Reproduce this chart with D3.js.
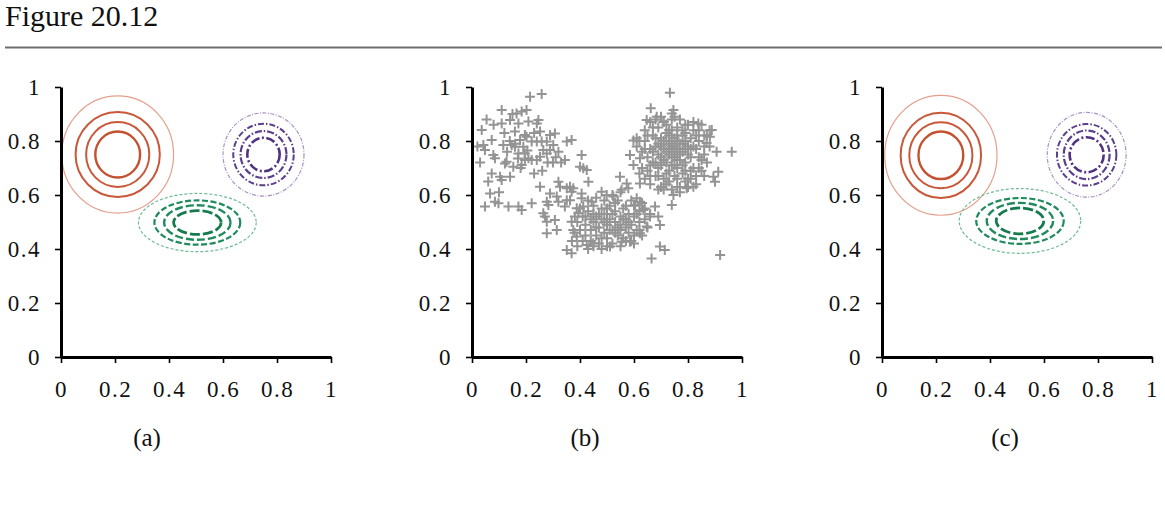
<!DOCTYPE html>
<html>
<head>
<meta charset="utf-8">
<script src="https://cdn.jsdelivr.net/npm/d3@7"></script>
<style>
body { margin: 0; background: #fff; }
svg { display: block; }
text { font-family: "Liberation Serif", "Times New Roman", serif; fill: #111; }
</style>
</head>
<body>
<svg></svg>
<script>
const W = 1165, H = 508;
const tickValues = [0, 0.2, 0.4, 0.6, 0.8, 1];
const tickLabels = ['0', '0.2', '0.4', '0.6', '0.8', '1'];
const panelLabels = ['(a)', '(b)', '(c)'];

// contour rings: [cx, cy, rx, ry, group, level]  (level 0 = outer ring)
const contoursA = [
	[0.21, 0.75, 0.207, 0.217, 'red', 0],
	[0.21, 0.75, 0.156, 0.157, 'red', 1],
	[0.21, 0.75, 0.117, 0.120, 'red', 2],
	[0.21, 0.75, 0.083, 0.085, 'red', 3],
	[0.75, 0.75, 0.150, 0.154, 'purple', 0],
	[0.75, 0.75, 0.112, 0.114, 'purple', 1],
	[0.75, 0.75, 0.085, 0.087, 'purple', 2],
	[0.75, 0.75, 0.060, 0.062, 'purple', 3],
	[0.505, 0.498, 0.218, 0.108, 'green', 0],
	[0.505, 0.498, 0.159, 0.082, 'green', 1],
	[0.505, 0.498, 0.123, 0.064, 'green', 2],
	[0.505, 0.498, 0.088, 0.044, 'green', 3]
];
const contoursC = [
	[0.218, 0.747, 0.208, 0.222, 'red', 0],
	[0.218, 0.747, 0.149, 0.158, 'red', 1],
	[0.218, 0.747, 0.117, 0.122, 'red', 2],
	[0.218, 0.747, 0.083, 0.088, 'red', 3],
	[0.758, 0.749, 0.146, 0.157, 'purple', 0],
	[0.758, 0.749, 0.110, 0.114, 'purple', 1],
	[0.758, 0.749, 0.085, 0.090, 'purple', 2],
	[0.758, 0.749, 0.063, 0.065, 'purple', 3],
	[0.511, 0.504, 0.225, 0.120, 'green', 0],
	[0.511, 0.504, 0.162, 0.085, 'green', 1],
	[0.511, 0.504, 0.123, 0.067, 'green', 2],
	[0.511, 0.504, 0.088, 0.048, 'green', 3]
];

// sampled points for panel (b)
const samples = [
	// left group
	[0.036,0.841],[0.054,0.880],[0.110,0.915],[0.110,0.865],[0.141,0.878],[0.165,0.902],[0.184,0.909],[0.202,0.915],
	[0.215,0.964],[0.258,0.974],[0.246,0.878],[0.240,0.865],[0.209,0.872],[0.172,0.865],[0.159,0.835],[0.178,0.804],
	[0.190,0.779],[0.172,0.754],[0.159,0.779],[0.147,0.785],[0.116,0.785],[0.073,0.804],[0.042,0.785],[0.048,0.767],
	[0.079,0.748],[0.085,0.736],[0.122,0.717],[0.128,0.723],[0.153,0.705],[0.184,0.711],[0.196,0.730],[0.209,0.736],
	[0.221,0.730],[0.240,0.730],[0.252,0.742],[0.264,0.767],[0.277,0.754],[0.289,0.767],[0.301,0.785],[0.307,0.828],
	[0.289,0.822],[0.258,0.798],[0.240,0.798],[0.221,0.798],[0.202,0.816],[0.196,0.822],[0.252,0.835],[0.277,0.798],
	[0.160,0.790],[0.195,0.755],[0.170,0.735],[0.140,0.800],[0.130,0.760],[0.205,0.765],[0.180,0.700],[0.020,0.780],
	[0.073,0.680],[0.104,0.668],[0.110,0.656],[0.067,0.606],[0.085,0.575],[0.098,0.569],[0.135,0.557],[0.172,0.557],
	[0.184,0.544],[0.221,0.569],[0.048,0.557],[0.141,0.668],[0.252,0.631],[0.277,0.575],[0.283,0.563],[0.289,0.606],
	[0.320,0.649],[0.326,0.631],[0.314,0.594],[0.351,0.625],[0.363,0.631],[0.369,0.612],[0.375,0.625],[0.351,0.581],
	[0.363,0.581],[0.320,0.575],[0.344,0.557],[0.264,0.532],[0.270,0.520],[0.277,0.501],[0.277,0.458],[0.307,0.507],
	[0.314,0.470],[0.351,0.798],[0.369,0.804],[0.344,0.730],[0.406,0.748],[0.400,0.705],[0.412,0.699],[0.425,0.693],
	[0.431,0.649],[0.406,0.606],[0.406,0.588],[0.388,0.551],[0.381,0.520],[0.351,0.396],[0.369,0.384],[0.320,0.760],
	[0.310,0.740],[0.280,0.720],[0.300,0.720],[0.330,0.720],[0.150,0.900],[0.230,0.830],[0.030,0.720],[0.060,0.650],
	[0.100,0.610],[0.230,0.680],[0.260,0.690],[0.120,0.830],[0.080,0.860],
	// middle group
	[0.548,0.668],[0.573,0.643],[0.579,0.625],[0.622,0.643],[0.554,0.619],[0.610,0.588],[0.622,0.575],[0.678,0.557],
	[0.690,0.520],[0.696,0.489],[0.696,0.409],[0.714,0.396],[0.665,0.365],[0.480,0.612],[0.499,0.600],[0.523,0.594],
	[0.443,0.575],[0.412,0.557],[0.394,0.532],[0.369,0.501],[0.375,0.470],[0.388,0.446],[0.425,0.415],[0.449,0.421],
	[0.511,0.409],[0.554,0.427],[0.585,0.427],[0.622,0.458],[0.647,0.483],[0.659,0.520],[0.635,0.544],[0.604,0.563],
	[0.40,0.47],[0.41,0.52],[0.42,0.45],[0.42,0.49],[0.43,0.54],[0.44,0.47],[0.44,0.43],[0.45,0.50],
	[0.45,0.56],[0.46,0.45],[0.46,0.52],[0.47,0.48],[0.47,0.42],[0.48,0.55],[0.48,0.51],[0.49,0.46],
	[0.49,0.58],[0.50,0.49],[0.50,0.53],[0.50,0.44],[0.51,0.51],[0.51,0.56],[0.52,0.47],[0.52,0.42],
	[0.53,0.50],[0.53,0.54],[0.54,0.45],[0.54,0.58],[0.55,0.49],[0.55,0.52],[0.56,0.44],[0.56,0.55],
	[0.57,0.48],[0.57,0.51],[0.58,0.46],[0.58,0.53],[0.59,0.49],[0.59,0.43],[0.60,0.52],[0.60,0.56],
	[0.61,0.47],[0.62,0.50],[0.62,0.54],[0.63,0.45],[0.64,0.51],[0.65,0.48],[0.39,0.50],[0.38,0.46],
	[0.40,0.55],[0.43,0.58],[0.46,0.59],[0.52,0.60],[0.55,0.61],[0.47,0.53],[0.49,0.50],[0.51,0.47],
	[0.53,0.46],[0.55,0.47],[0.48,0.44],[0.44,0.51],[0.42,0.52],[0.57,0.56],[0.59,0.58],[0.61,0.53],
	[0.58,0.50],[0.50,0.55],[0.46,0.48],[0.45,0.53],[0.53,0.57],[0.56,0.51],[0.54,0.48],[0.52,0.53],
	[0.49,0.53],[0.60,0.45],[0.62,0.47],[0.57,0.43],[0.50,0.41],[0.45,0.41],[0.41,0.43],[0.63,0.57],
	[0.37,0.43],[0.39,0.41],[0.43,0.40],[0.48,0.40],[0.55,0.41],[0.60,0.42],[0.64,0.55],[0.66,0.53],
	// right group
	[0.733,0.979],[0.662,0.921],[0.746,0.915],[0.740,0.902],[0.647,0.878],[0.684,0.890],[0.709,0.872],[0.610,0.810],
	[0.598,0.802],[0.585,0.748],[0.598,0.711],[0.622,0.736],[0.838,0.865],[0.888,0.841],[0.881,0.816],[0.869,0.793],
	[0.906,0.760],[0.962,0.760],[0.894,0.668],[0.900,0.649],[0.912,0.686],[0.740,0.563],[0.746,0.600],[0.795,0.625],
	[0.820,0.631],[0.919,0.378],
	[0.64,0.80],[0.65,0.74],[0.65,0.69],[0.66,0.77],[0.66,0.64],[0.67,0.82],[0.67,0.72],[0.68,0.78],
	[0.68,0.67],[0.69,0.85],[0.69,0.75],[0.69,0.70],[0.70,0.81],[0.70,0.63],[0.71,0.77],[0.71,0.73],
	[0.71,0.87],[0.72,0.68],[0.72,0.80],[0.73,0.75],[0.73,0.84],[0.73,0.65],[0.74,0.78],[0.74,0.71],
	[0.74,0.88],[0.75,0.74],[0.75,0.81],[0.75,0.67],[0.76,0.77],[0.76,0.85],[0.76,0.70],[0.77,0.79],
	[0.77,0.73],[0.77,0.63],[0.78,0.82],[0.78,0.76],[0.78,0.68],[0.79,0.86],[0.79,0.72],[0.80,0.78],
	[0.80,0.66],[0.81,0.81],[0.81,0.74],[0.82,0.70],[0.82,0.84],[0.83,0.77],[0.83,0.67],[0.84,0.80],
	[0.85,0.73],[0.86,0.78],[0.87,0.82],[0.72,0.76],[0.70,0.78],[0.73,0.79],[0.75,0.78],[0.74,0.74],
	[0.76,0.73],[0.72,0.72],[0.71,0.80],[0.77,0.75],[0.79,0.80],[0.78,0.71],[0.70,0.74],[0.68,0.72],
	[0.67,0.76],[0.69,0.79],[0.75,0.71],[0.76,0.82],[0.73,0.82],[0.80,0.75],[0.74,0.84],[0.72,0.86],
	[0.77,0.88],[0.80,0.86],[0.82,0.78],[0.84,0.74],[0.81,0.69],[0.79,0.65],[0.76,0.66],[0.73,0.69],
	[0.71,0.66],[0.69,0.67],[0.66,0.71],[0.64,0.77],[0.65,0.82],[0.67,0.85],[0.70,0.89],[0.75,0.89],
	[0.78,0.84],[0.74,0.62],[0.71,0.62],[0.77,0.61],[0.80,0.63],[0.83,0.64],[0.85,0.69],[0.86,0.75],
	[0.84,0.84],[0.82,0.87],[0.76,0.80],[0.73,0.77],[0.70,0.71],[0.68,0.81],[0.72,0.83],[0.78,0.79],
	[0.79,0.77],[0.81,0.77],[0.75,0.76],[0.74,0.80],
	[0.62,0.80],[0.63,0.76],[0.63,0.70],[0.64,0.66],[0.62,0.68],[0.64,0.84],[0.66,0.87],[0.61,0.78],
	[0.88,0.78],[0.87,0.72],[0.86,0.67],[0.88,0.84],[0.85,0.86],[0.86,0.82],[0.84,0.70],[0.83,0.82],
	[0.69,0.62],[0.72,0.64],[0.76,0.63],[0.79,0.69],[0.81,0.66],[0.66,0.67],[0.68,0.88],[0.79,0.83]
];

// ring styles
const ringStyle = {
	red: [
		{stroke: '#e4a08c', width: 1.2, dash: null},
		{stroke: '#c9583a', width: 2, dash: null},
		{stroke: '#c9583a', width: 2, dash: null},
		{stroke: '#c4512f', width: 2.4, dash: null}
	],
	purple: [
		{stroke: '#a893c4', width: 1.2, dash: '4,1.5,1,1.5'},
		{stroke: '#5b3f8c', width: 2, dash: '6,2,1.5,2'},
		{stroke: '#5b3f8c', width: 2.2, dash: '7,2,1.5,2'},
		{stroke: '#4f3282', width: 2.6, dash: '9,2.5,2,2.5'}
	],
	green: [
		{stroke: '#6dbb95', width: 1.2, dash: '3,2'},
		{stroke: '#1f8a5c', width: 2.2, dash: '6,2.5'},
		{stroke: '#1f8a5c', width: 2.4, dash: '8,3'},
		{stroke: '#157a4c', width: 2.8, dash: '10,3'}
	]
};

const svg = d3.select('svg').attr('width', W).attr('height', H);

// header
svg.append('text')
	.attr('x', 5).attr('y', 26)
	.style('font-size', '30px')
	.text('Figure 20.12');
svg.append('line')
	.attr('x1', 5).attr('x2', 1162)
	.attr('y1', 47.5).attr('y2', 47.5)
	.attr('stroke', '#6e6e6e').attr('stroke-width', 2);

const panels = [
	{left: 61, label: 0, labelX: 147, contours: contoursA},
	{left: 472, label: 1, labelX: 585, contours: null},
	{left: 882, label: 2, labelX: 1005, contours: contoursC}
];

const yScale = d3.scaleLinear().domain([0, 1]).range([357, 87]);

function drawPanel(p){
	var x = d3.scaleLinear().domain([0, 1]).range([p.left, p.left + 270]);
	var g = svg.append('g');

	if(p.contours){
		g.selectAll('ellipse').data(p.contours).enter().append('ellipse')
		.attr('cx', d => x(d[0])).attr('cy', d => yScale(d[1]))
		.attr('rx', d => x(d[2]) - x(0)).attr('ry', d => yScale(0) - yScale(d[3]))
		.attr('fill', 'none')
		.attr('stroke', d => ringStyle[d[4]][d[5]].stroke)
		.attr('stroke-width', d => ringStyle[d[4]][d[5]].width)
		.attr('stroke-dasharray', d => ringStyle[d[4]][d[5]].dash);
	} else {
		g.selectAll('path.pt').data(samples).enter().append('path')
		.classed('pt', true)
		.attr('d', d => {
			var px = x(d[0]), py = yScale(d[1]);
			return `M${px-5},${py}H${px+5}M${px},${py-5}V${py+5}`;
		})
		.attr('stroke', '#949494').attr('stroke-width', 2)
		.attr('fill', 'none');
	}

	var fmt = (d, i) => tickLabels[i];
	var xAxis = g.append('g').attr('transform', `translate(0,${yScale(0)})`)
		.call(d3.axisBottom(x).tickValues(tickValues).tickFormat(fmt).tickSize(6).tickSizeOuter(0).tickPadding(18));
	var yAxis = g.append('g').attr('transform', `translate(${p.left},0)`)
		.call(d3.axisLeft(yScale).tickValues(tickValues).tickFormat(fmt).tickSize(6).tickSizeOuter(0).tickPadding(14));

	[xAxis, yAxis].forEach(a => {
		a.select('.domain').attr('stroke', '#000').attr('stroke-width', 3);
		a.selectAll('.tick line').attr('stroke', '#000').attr('stroke-width', 1.6);
		a.selectAll('.tick text')
			.style('font-family', '"Liberation Serif", serif')
			.style('font-size', '23px')
			.style('letter-spacing', '1.5px')
			.attr('fill', '#111');
	});

	g.append('text')
		.attr('x', p.labelX).attr('y', 446)
		.attr('text-anchor', 'middle')
		.style('font-size', '25px')
		.text(panelLabels[p.label]);
}

panels.forEach(drawPanel);
</script>
</body>
</html>
